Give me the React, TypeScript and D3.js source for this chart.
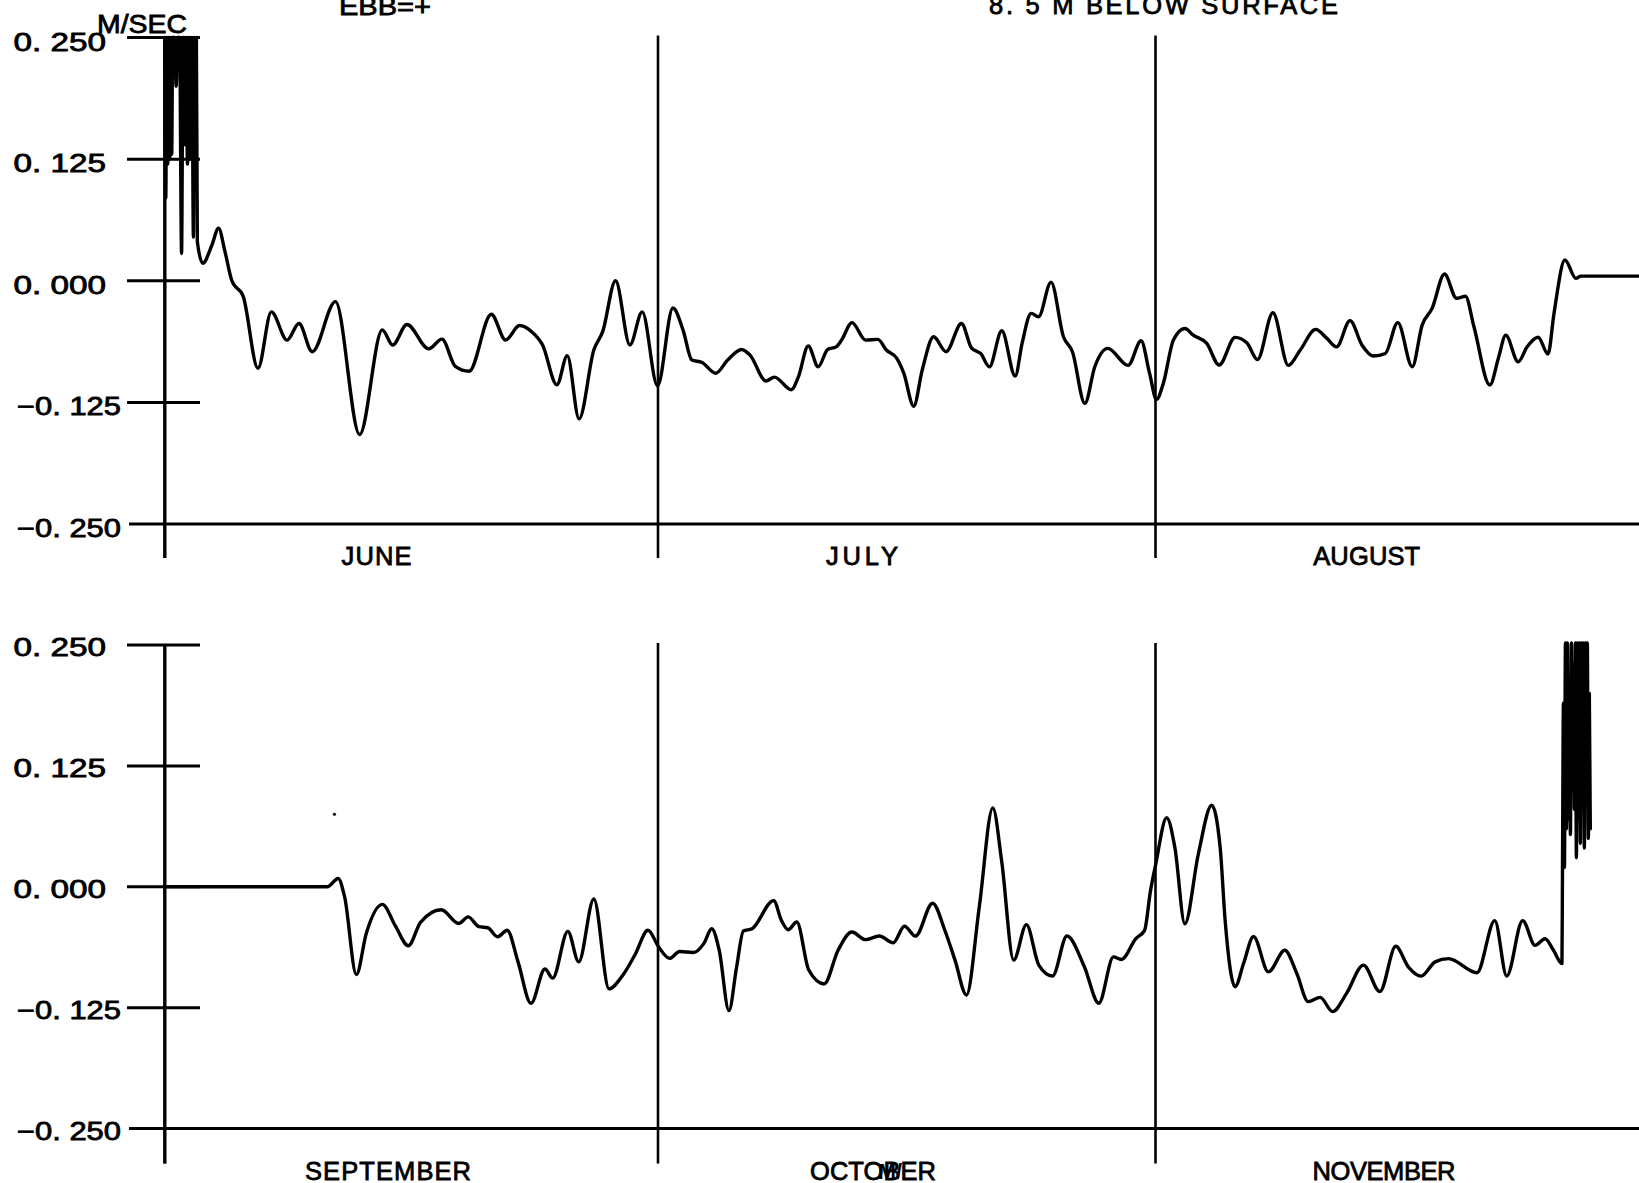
import React from 'react';
import * as d3 from 'd3';

// Current speed (m/s, ebb positive), 8.5 m below surface.
// x = months since the start of each panel, y = speed.
const TICK_VALUES = [0.25, 0.125, 0, -0.125, -0.25];
const TICK_LABELS = ['0. 250', '0. 125', '0. 000', '\u22120. 125', '\u22120. 250'];
const TOP_MONTHS = ['JUNE', 'JULY', 'AUGUST'];
const BOTTOM_MONTHS = ['SEPTEMBER', 'OCTOBER', 'NOVEMBER'];

// June – August
const topSeries: [number, number][] = [
  [0.000, 0.25], [0.002, 0.085], [0.004, 0.25], [0.006, 0.12], [0.008, 0.25], [0.010, 0.125],
  [0.012, 0.25], [0.014, 0.13], [0.016, 0.25], [0.020, 0.25], [0.023, 0.20], [0.026, 0.25],
  [0.030, 0.25], [0.034, 0.028], [0.037, 0.25], [0.040, 0.14], [0.043, 0.25], [0.046, 0.12],
  [0.049, 0.25], [0.052, 0.125], [0.055, 0.25], [0.058, 0.045], [0.060, 0.25], [0.062, 0.13],
  [0.064, 0.25], [0.066, 0.04],
  [0.077, 0.018], [0.095, 0.036], [0.109, 0.054], [0.122, 0.030], [0.136, 0.0], [0.159, -0.016],
  [0.189, -0.090], [0.216, -0.032], [0.248, -0.061], [0.272, -0.044], [0.299, -0.073],
  [0.346, -0.0215], [0.395, -0.158], [0.441, -0.0505], [0.462, -0.066], [0.491, -0.045],
  [0.535, -0.070], [0.562, -0.060], [0.589, -0.088], [0.617, -0.093], [0.662, -0.0345],
  [0.691, -0.061], [0.719, -0.046], [0.743, -0.052], [0.766, -0.066], [0.795, -0.107],
  [0.816, -0.077], [0.840, -0.142], [0.870, -0.071], [0.888, -0.052], [0.914, 0.0],
  [0.943, -0.066], [0.968, -0.032], [0.999, -0.108],
  [1.030, -0.028], [1.0505, -0.051], [1.068, -0.0815], [1.0886, -0.084], [1.116, -0.095],
  [1.140, -0.0815], [1.168, -0.0706], [1.185, -0.0764], [1.217, -0.103], [1.234, -0.099],
  [1.268, -0.112], [1.282, -0.099], [1.302, -0.067], [1.322, -0.0884], [1.341, -0.0706],
  [1.358, -0.068], [1.369, -0.061], [1.390, -0.043], [1.417, -0.061], [1.442, -0.0603],
  [1.459, -0.0712], [1.480, -0.0798], [1.494, -0.095], [1.514, -0.129], [1.531, -0.092],
  [1.554, -0.0576], [1.579, -0.073], [1.610, -0.044], [1.630, -0.069], [1.649, -0.075],
  [1.666, -0.0884], [1.691, -0.0514], [1.718, -0.098], [1.732, -0.064], [1.750, -0.0335],
  [1.765, -0.037], [1.790, -0.0014], [1.815, -0.0576], [1.833, -0.073], [1.858, -0.126],
  [1.878, -0.0884], [1.904, -0.0695], [1.945, -0.087], [1.971, -0.0617], [1.988, -0.095],
  [2.002, -0.122],
  [2.0157, -0.1055], [2.036, -0.061], [2.059, -0.049], [2.076, -0.056], [2.103, -0.0644],
  [2.128, -0.0866], [2.160, -0.0582], [2.184, -0.064], [2.205, -0.081], [2.236, -0.0329],
  [2.267, -0.087], [2.291, -0.0712], [2.322, -0.050], [2.344, -0.059], [2.364, -0.068],
  [2.391, -0.041], [2.415, -0.066], [2.438, -0.0774], [2.462, -0.0747], [2.487, -0.043],
  [2.516, -0.0884], [2.536, -0.0456], [2.556, -0.0284], [2.581, 0.0069], [2.605, -0.018],
  [2.623, -0.016], [2.640, -0.047], [2.672, -0.1072], [2.690, -0.078], [2.704, -0.0559],
  [2.729, -0.0833], [2.747, -0.0678], [2.769, -0.058], [2.789, -0.0753], [2.801, -0.0336],
  [2.823, 0.0213], [2.845, 0.0024], [2.855, 0.0048], [3.000, 0.0048],
];

// September – November
const bottomSeries: [number, number][] = [
  [0.0, 0.0], [0.3295, 0.0], [0.3515, 0.0086], [0.3647, -0.0108], [0.3884, -0.0908],
  [0.4086, -0.048], [0.4411, -0.0182], [0.4675, -0.0405], [0.4938, -0.061], [0.5185, -0.0368],
  [0.5606, -0.0238], [0.5958, -0.038], [0.6151, -0.0312], [0.6371, -0.0413], [0.6547, -0.0424],
  [0.6749, -0.0517], [0.6942, -0.045], [0.7162, -0.0777], [0.7425, -0.1205], [0.7707, -0.085],
  [0.7865, -0.0945], [0.8172, -0.0461], [0.8392, -0.0777], [0.8699, -0.0126], [0.9007, -0.1056],
  [0.9271, -0.0926], [0.9534, -0.0703], [0.9798, -0.045],
  [1.001, -0.062], [1.023, -0.074], [1.0436, -0.067], [1.071, -0.068], [1.092, -0.0588],
  [1.108, -0.0434], [1.123, -0.0656], [1.1426, -0.128], [1.158, -0.083], [1.1716, -0.0457],
  [1.189, -0.0434], [1.2325, -0.0143], [1.248, -0.0348], [1.2616, -0.0444], [1.279, -0.0365],
  [1.303, -0.0861], [1.334, -0.1005], [1.362, -0.0656], [1.3896, -0.0468], [1.417, -0.0547],
  [1.445, -0.051], [1.4727, -0.058], [1.4955, -0.0409], [1.5176, -0.051], [1.552, -0.017],
  [1.5765, -0.045], [1.597, -0.0759], [1.620, -0.1119], [1.6457, -0.0211], [1.673, 0.0816],
  [1.6907, 0.0268], [1.7149, -0.0759], [1.7405, -0.0392], [1.7654, -0.081], [1.793, -0.0923],
  [1.822, -0.051], [1.857, -0.0828], [1.886, -0.1204], [1.9156, -0.0725], [1.9315, -0.0752],
  [1.9606, -0.0536], [1.978, -0.0451], [1.990, -0.004], [2.0, 0.022],
  [2.0225, 0.0713], [2.039, 0.0404], [2.059, -0.0384], [2.086, 0.0336], [2.113, 0.0843],
  [2.130, 0.0404], [2.140, -0.035], [2.160, -0.1034], [2.177, -0.0794], [2.197, -0.0514],
  [2.227, -0.088], [2.260, -0.0657], [2.284, -0.0897], [2.307, -0.1188], [2.331, -0.1144],
  [2.356, -0.1291], [2.384, -0.1103], [2.418, -0.0811], [2.451, -0.1085], [2.483, -0.0616],
  [2.508, -0.0828], [2.534, -0.0924], [2.562, -0.0777], [2.589, -0.0743], [2.646, -0.089],
  [2.682, -0.035], [2.706, -0.0924], [2.738, -0.035], [2.763, -0.0606], [2.783, -0.0538],
  [2.800, -0.0657], [2.817, -0.0794],
  [2.818, 0.010], [2.820, 0.19], [2.822, 0.02], [2.824, 0.252], [2.826, 0.06], [2.828, 0.252],
  [2.830, 0.07], [2.832, 0.20], [2.834, 0.054], [2.836, 0.252], [2.838, 0.10], [2.840, 0.23],
  [2.842, 0.08], [2.844, 0.252], [2.846, 0.03], [2.848, 0.252], [2.850, 0.07], [2.852, 0.252],
  [2.854, 0.045], [2.856, 0.252], [2.858, 0.09], [2.860, 0.252], [2.862, 0.04], [2.864, 0.252],
  [2.866, 0.12], [2.868, 0.252], [2.870, 0.05], [2.872, 0.20], [2.874, 0.06],
];

// Stray pen marks on the lower sheet: [month, speed]
const bottomSpecks: [number, number][] = [[0.344, 0.075]];

const W = 1639;
const H = 1183;
const FONT = '"Liberation Sans", Arial, sans-serif';
const TEXT_STROKE = 0.8;

const xScale = d3.scaleLinear().domain([0, 1, 2, 3]).range([164.8, 658, 1155.5, 1653]);

type PanelProps = {
  series: [number, number][];
  months: string[];
  yTop: number;
  yBottom: number;
  labelDy: number;
  axisBottomExtra: number;
  monthBaseline: number;
  monthCenters: number[];
  monthWidths: number[];
  specks?: [number, number][];
};

const Panel = ({ series, months, yTop, yBottom, labelDy, axisBottomExtra, monthBaseline, monthCenters, monthWidths, specks }: PanelProps) => {
  const y = d3.scaleLinear().domain([-0.25, 0.25]).range([yBottom, yTop]);
  const line = d3
    .line<[number, number]>()
    .x((d) => xScale(d[0]))
    .y((d) => y(d[1]))
    .curve(d3.curveMonotoneX);
  const x0 = xScale(0);
  const lineBottom = yBottom + axisBottomExtra;
  return (
    <g>
      {/* vertical axis and month dividers */}
      {[0, 1, 2].map((m) => (
        <line key={m} x1={xScale(m)} x2={xScale(m)} y1={yTop - (m === 0 ? 0 : 2)} y2={lineBottom}
          stroke="#000" strokeWidth={m === 0 ? 3 : 2.6} />
      ))}
      {/* baseline at -0.250 */}
      <line x1={129} x2={W} y1={y(-0.25)} y2={y(-0.25)} stroke="#000" strokeWidth={3} />
      {/* tick marks and labels */}
      {TICK_VALUES.map((v, i) => {
        const neg = v < 0;
        return (
          <g key={v}>
            {v !== -0.25 && (
              <line x1={127} x2={200} y1={y(v)} y2={y(v)} stroke="#000" strokeWidth={3} />
            )}
            <text x={neg ? 17 : 13.5} y={y(v) + labelDy} fontFamily={FONT} fontSize={25.5}
              textLength={neg ? 104 : 92.5} lengthAdjust="spacingAndGlyphs"
              fill="#000" stroke="#000" strokeWidth={TEXT_STROKE}>
              {TICK_LABELS[i]}
            </text>
          </g>
        );
      })}
      {/* month names */}
      {months.map((m, i) => (
        <text key={m} x={monthCenters[i] - monthWidths[i] / 2} y={monthBaseline} fontFamily={FONT}
          fontSize={25.5} textLength={monthWidths[i]} lengthAdjust="spacing"
          fill="#000" stroke="#000" strokeWidth={TEXT_STROKE}>
          {m}
        </text>
      ))}
      {/* current record */}
      <path d={line(series) || ''} fill="none" stroke="#000" strokeWidth={3.4}
        strokeLinejoin="round" strokeLinecap="round" />
      {(specks || []).map((s, i) => (
        <circle key={i} cx={xScale(s[0])} cy={y(s[1])} r={1.6} fill="#000" />
      ))}
      <line x1={x0} x2={x0} y1={yTop} y2={lineBottom} stroke="#000" strokeWidth={3} />
    </g>
  );
};

export default function App() {
  return (
    <svg width={W} height={H} viewBox={`0 0 ${W} ${H}`}
      style={{ position: 'absolute', left: 0, top: 0, background: '#fff' }}>
      <rect x={0} y={0} width={W} height={H} fill="#fff" />
      {/* heading */}
      <text x={339} y={14.5} fontFamily={FONT} fontSize={25.5} textLength={92}
        lengthAdjust="spacingAndGlyphs" fill="#000" stroke="#000" strokeWidth={TEXT_STROKE}>EBB=+</text>
      <text x={989} y={13.5} fontFamily={FONT} fontSize={25.5} textLength={349}
        lengthAdjust="spacing" fill="#000" stroke="#000" strokeWidth={TEXT_STROKE}>8. 5 M BELOW SURFACE</text>
      <text x={97} y={33} fontFamily={FONT} fontSize={25.5} textLength={90}
        lengthAdjust="spacingAndGlyphs" fill="#000" stroke="#000" strokeWidth={TEXT_STROKE}>M/SEC</text>

      <Panel series={topSeries} months={TOP_MONTHS} yTop={37.5} yBottom={524} labelDy={13}
        axisBottomExtra={34} monthBaseline={565} monthCenters={[376.5, 862, 1366.7]}
        monthWidths={[70, 72, 107]} />
      <Panel series={bottomSeries} months={BOTTOM_MONTHS} yTop={645} yBottom={1128.5} labelDy={11}
        axisBottomExtra={35} monthBaseline={1180} monthCenters={[388, 873, 1384]}
        monthWidths={[166, 126, 143]} specks={bottomSpecks} />
      {/* overprint on the October label */}
      <text x={878} y={1179} fontFamily={FONT} fontSize={22} fontWeight="bold" fill="#000"
        textLength={24} lengthAdjust="spacingAndGlyphs">M/</text>
    </svg>
  );
}
